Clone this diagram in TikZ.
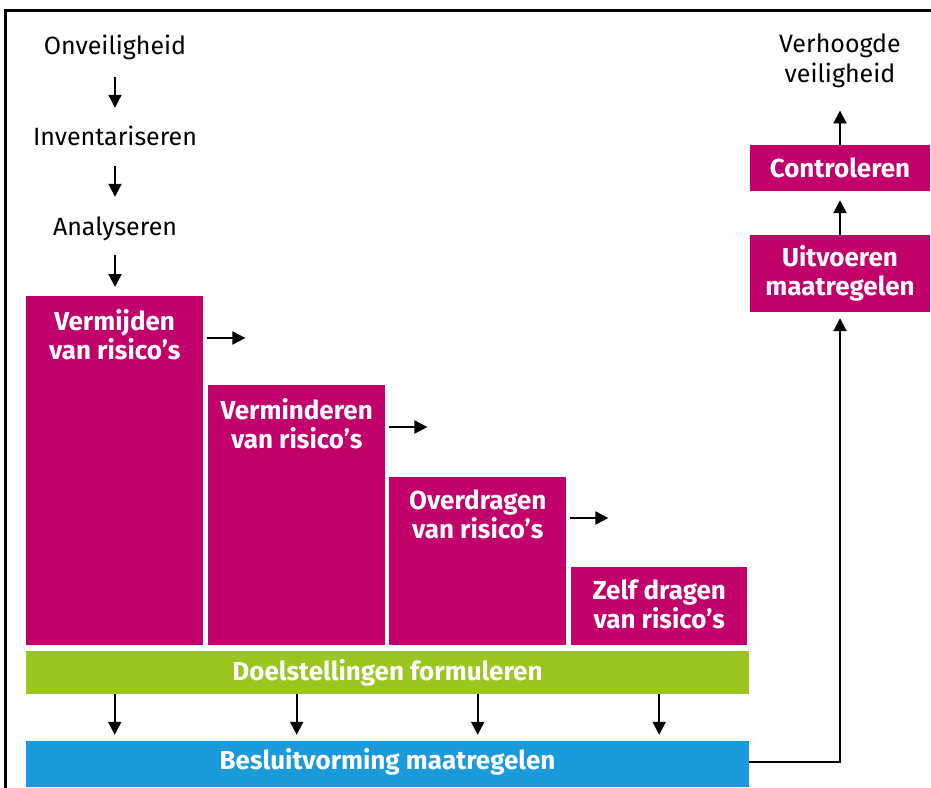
\documentclass[tikz,border=0pt]{standalone}
\usepackage{fontspec}
\setmainfont{Fira Sans}
\usetikzlibrary{arrows.meta,calc}
\definecolor{riskmagenta}{HTML}{C2006B}
\definecolor{goalgreen}{HTML}{9BC51F}
\definecolor{decideblue}{HTML}{1A9ADA}

\begin{document}
\begin{tikzpicture}[x=1pt,y=-1pt,
  arr/.style={line width=2pt,-{Triangle[length=13pt,width=13pt]}},
  steptext/.style={font=\fontsize{25}{25}\selectfont, inner sep=0pt,
    text height=18pt, text depth=5pt, anchor=base},
  boxfill/.style={fill=riskmagenta, draw=none, inner sep=0pt},
  boxtext/.style={font=\bfseries\fontsize{26}{29}\selectfont, text=white,
    align=center, inner sep=0pt},
  barfill/.style={draw=none, inner sep=0pt, text=white,
    font=\bfseries\fontsize{26}{26}\selectfont}
]
\useasboundingbox (0,0) rectangle (931,787);

% outer frame
\draw[line width=3pt] (5,800) -- (5,10) -- (945,10);

% preparation steps
\node[steptext] (onv) at (115,54) {Onveiligheid};
\node[steptext] (inv) at (115,145) {Inventariseren};
\node[steptext] (ana) at (115,235) {Analyseren};

% the four risk strategies
\node[boxfill, anchor=north west, minimum width=177pt, minimum height=349pt] (b1) at (26,296) {};
\node[boxfill, anchor=north west, minimum width=177pt, minimum height=260pt] (b2) at (208,385) {};
\node[boxfill, anchor=north west, minimum width=177pt, minimum height=168pt] (b3) at (389,477) {};
\node[boxfill, anchor=north west, minimum width=176pt, minimum height=78pt] (b4) at (571,567) {};

\node[boxtext, anchor=north] (t1) at ($(b1.north)+(0,13)$) {Vermijden\\van risico’s};
\node[boxtext, anchor=north] (t2) at ($(b2.north)+(0,13)$) {Verminderen\\van risico’s};
\node[boxtext, anchor=north] (t3) at ($(b3.north)+(0,13)$) {Overdragen\\van risico’s};
\node[boxtext, anchor=north] (t4) at ($(b4.north)+(0,13)$) {Zelf dragen\\van risico’s};

% goals and decision bars
\node[barfill, fill=goalgreen, minimum width=723pt, minimum height=43pt] (goal) at (387.5,672.5) {Doelstellingen formuleren};
\node[barfill, fill=decideblue, minimum width=723pt, minimum height=46pt, text depth=10pt] (decide) at (387.5,764) {Besluitvorming maatregelen};

% execution column
\node[boxfill, minimum width=180pt, minimum height=46pt, boxtext] (ctrl) at (840,168) {Controleren};
\node[boxfill, minimum width=180pt, minimum height=77pt, boxtext] (uitv) at (840,273.5) {Uitvoeren\\maatregelen};
\node[font=\fontsize{25}{30}\selectfont, align=center, inner sep=0pt, anchor=north] (ver) at (840,34) {Verhoogde\\veiligheid};

% connectors down the left column
\draw[arr, shorten <=18pt, shorten >=19pt] (onv.south) -- (inv.north);
\draw[arr, shorten <=16pt, shorten >=20pt] (inv.south) -- (ana.north);
\draw[arr, shorten <=15pt, shorten >=9pt] (ana.south) -- (ana.south |- b1.north);

% sideways arrows between the strategies
\coordinate (s1) at ($(b1.north east)+(4,42)$);
\coordinate (s2) at ($(b2.north east)+(4,42)$);
\coordinate (s3) at ($(b3.north east)+(4,41)$);
\draw[arr] (s1) -- ++(38,0);
\draw[arr] (s2) -- ++(38,0);
\draw[arr] (s3) -- ++(38,0);

% from goals to decisions
\foreach \b in {b1,b2,b3,b4}
  \draw[arr, shorten >=6pt] (\b.center |- goal.south) -- (\b.center |- decide.north);

% decisions lead to execution and control
\draw[arr, shorten >=6pt] (decide.east |- 0,762) -| (uitv.south);
\draw[arr, shorten >=9pt] (uitv.north) -- (ctrl.south);
\draw[arr, shorten >=22pt] (ctrl.north) -- (ver.south);
\end{tikzpicture}
\end{document}
